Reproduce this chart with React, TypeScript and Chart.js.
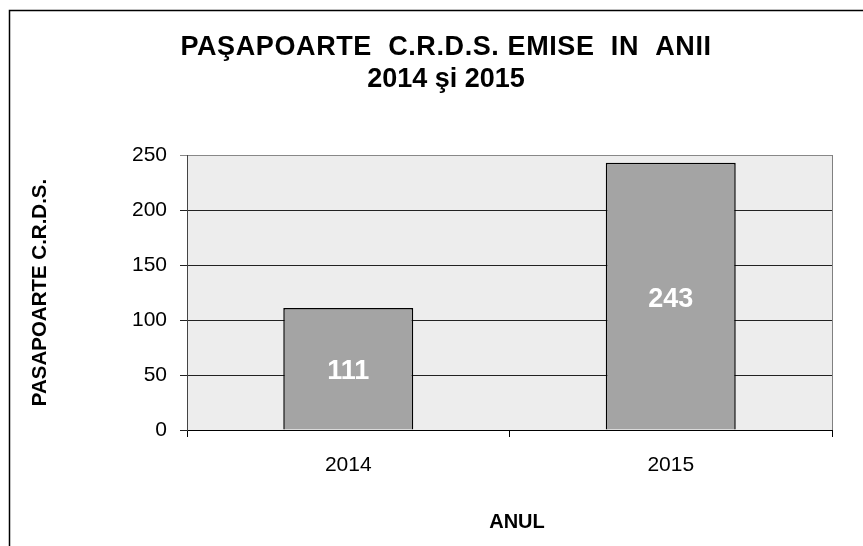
import React, { useEffect, useRef } from "react";
import { Chart, registerables } from "chart.js";

Chart.register(...registerables);

const categories = ["2014", "2015"];
const values = [111, 243];
const yMin = 0;
const yMax = 250;
const yStep = 50;
const titleLines = ["PAŞAPOARTE  C.R.D.S. EMISE  IN  ANII", "2014 şi 2015"];
const yTitle = "PASAPOARTE C.R.D.S.";
const xTitle = "ANUL";

const FONT = "'Liberation Sans', Arial, sans-serif";

export default function App() {
  const ref = useRef<HTMLCanvasElement>(null);

  useEffect(() => {
    document.body.style.margin = "0";
    const canvas = ref.current;
    if (!canvas) return;

    const excelLook = {
      id: "excelLook",
      beforeDraw(chart: any) {
        const { ctx, chartArea: a } = chart;
        ctx.save();
        ctx.fillStyle = "#ffffff";
        ctx.fillRect(0, 0, chart.width, chart.height);
        ctx.fillStyle = "#EDEDED";
        ctx.fillRect(a.left, a.top, a.right - a.left, a.bottom - a.top);
        ctx.strokeStyle = "#000";
        ctx.lineWidth = 1.5;
        ctx.beginPath();
        ctx.moveTo(9.5, chart.height);
        ctx.lineTo(9.5, 10.5);
        ctx.lineTo(chart.width, 10.5);
        ctx.stroke();
        ctx.strokeStyle = "#808080";
        ctx.lineWidth = 1;
        ctx.beginPath();
        ctx.moveTo(Math.round(a.right) + 0.5, a.top);
        ctx.lineTo(Math.round(a.right) + 0.5, a.bottom);
        ctx.stroke();
        ctx.restore();
      },
      afterDatasetsDraw(chart: any) {
        const { ctx } = chart;
        const meta = chart.getDatasetMeta(0);
        ctx.save();
        ctx.font = `bold 27px ${FONT}`;
        ctx.fillStyle = "#ffffff";
        ctx.textAlign = "center";
        ctx.textBaseline = "middle";
        meta.data.forEach((bar: any, i: number) => {
          const p = bar.getProps(["x", "y", "base"], true);
          ctx.fillText(String(values[i]), p.x, (p.y + p.base) / 2 + 3);
        });
        ctx.restore();
      },
      afterDraw(chart: any) {
        const { ctx } = chart;
        ctx.save();
        ctx.fillStyle = "#000";
        ctx.textAlign = "center";
        ctx.textBaseline = "middle";
        ctx.font = `bold 27px ${FONT}`;
        try {
          (ctx as any).letterSpacing = "0.6px";
        } catch (e) {}
        ctx.fillText(titleLines[0], 446, 48);
        try {
          (ctx as any).letterSpacing = "0px";
        } catch (e) {}
        ctx.fillText(titleLines[1], 446, 80);
        ctx.font = `bold 20px ${FONT}`;
        ctx.fillText(xTitle, 517, 522);
        ctx.restore();
      },
    };

    const chart = new Chart(canvas, {
      type: "bar",
      data: {
        labels: categories,
        datasets: [
          {
            data: values,
            backgroundColor: "#A4A4A4",
            borderColor: "#000",
            borderWidth: 1.5,
            categoryPercentage: 1,
            barPercentage: 0.403,
          },
        ],
      },
      options: {
        responsive: false,
        animation: false,
        events: [],
        layout: { padding: { left: 0, right: 31, top: 155, bottom: 0 } },
        plugins: {
          legend: { display: false },
          title: { display: false },
          tooltip: { enabled: false },
        },
        scales: {
          x: {
            offset: true,
            afterFit: (s: any) => {
              s.height = 116;
            },
            grid: {
              display: true,
              drawOnChartArea: false,
              drawTicks: true,
              tickLength: 7,
              color: "#000",
              offset: true,
            },
            border: { display: true, color: "#000", width: 1 },
            ticks: {
              color: "#000",
              font: { family: FONT, size: 21 },
              padding: 16,
              maxRotation: 0,
            },
            title: { display: false, text: xTitle },
          },
          y: {
            min: yMin,
            max: yMax,
            afterFit: (s: any) => {
              s.width = 187;
            },
            grid: {
              drawTicks: true,
              tickLength: 7,
              color: (c: any) => (c.tick && c.tick.value === yMax ? "#888" : "#222"),
            },
            border: { display: true, color: "#444", width: 1 },
            ticks: {
              stepSize: yStep,
              color: "#000",
              font: { family: FONT, size: 21 },
              padding: 13,
            },
            title: {
              display: true,
              text: yTitle,
              color: "#000",
              font: { family: FONT, size: 20.5, weight: "bold" },
              padding: { top: 28.4, bottom: 0 },
            },
          },
        },
      },
      plugins: [excelLook],
    } as any);

    return () => chart.destroy();
  }, []);

  return <canvas ref={ref} width={863} height={546} style={{ display: "block" }} />;
}
